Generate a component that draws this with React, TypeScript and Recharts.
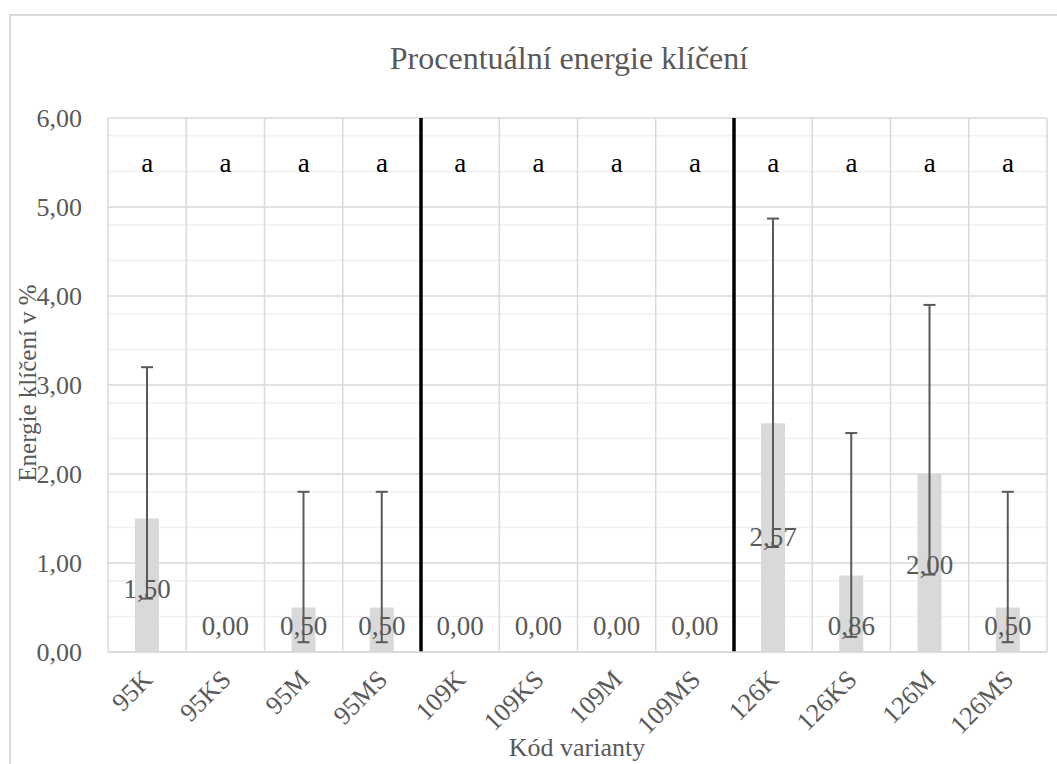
import { ComposedChart, Bar, Line, XAxis, YAxis, CartesianGrid, ErrorBar, LabelList, ReferenceLine } from "recharts";

const categories = ["95K", "95KS", "95M", "95MS", "109K", "109KS", "109M", "109MS", "126K", "126KS", "126M", "126MS"];
const values = [1.5, 0, 0.5, 0.5, 0, 0, 0, 0, 2.57, 0.86, 2.0, 0.5];
const errLow = [0.6, null, 0.11, 0.11, null, null, null, null, 1.18, 0.17, 0.87, 0.11];
const errHigh = [3.2, null, 1.8, 1.8, null, null, null, null, 4.87, 2.46, 3.9, 1.8];
const letters = ["a", "a", "a", "a", "a", "a", "a", "a", "a", "a", "a", "a"];
const letterLevel = 5.49;
const yTicks = [0, 1, 2, 3, 4, 5, 6];
const minorTicks = [0.2, 0.4, 0.6, 0.8, 1.2, 1.4, 1.6, 1.8, 2.2, 2.4, 2.6, 2.8, 3.2, 3.4, 3.6, 3.8, 4.2, 4.4, 4.6, 4.8, 5.2, 5.4, 5.6, 5.8];
const groupEnds = ["95MS", "109MS"];

const FONT = '"Liberation Serif", "Times New Roman", serif';
const TEXT = "#595959";
const Y_MAX = 6;

// value labels sit just above the lower error-bar cap (Excel-style manual placement)
const data = categories.map((c, i) => ({
  name: c,
  value: values[i],
  err: errLow[i] == null ? null : [values[i] - (errLow[i] as number), (errHigh[i] as number) - values[i]],
  labelY: Math.max((errLow[i] ?? 0) + 0.11, 0.29),
  letterY: letterLevel,
  letter: letters[i],
}));

const fmt = (v: number) => v.toFixed(2).replace(".", ",");

const ValueLabel = (props: any) => {
  const { x, y, value } = props;
  return (
    <text x={x} y={y} textAnchor="middle" dominantBaseline="central" fontSize={27} fill={TEXT} fontFamily={FONT}>
      {fmt(value)}
    </text>
  );
};

const LetterLabel = (props: any) => {
  const { x, y, value } = props;
  return (
    <text x={x} y={y} textAnchor="middle" dominantBaseline="central" fontSize={27} fill="#000" fontFamily={FONT}>
      {value}
    </text>
  );
};

const CatTick = (props: any) => {
  const { x, y, payload } = props;
  const tx = x + 7;
  const ty = y + 21;
  return (
    <text x={tx} y={ty} textAnchor="end" fontSize={26} fill={TEXT} fontFamily={FONT} transform={`rotate(-45, ${tx}, ${ty})`}>
      {payload.value}
    </text>
  );
};

const App = () => {
  return (
    <div style={{ position: "fixed", left: 0, top: 0, width: 1057, height: 764, overflow: "hidden", background: "#fff" }}>
      <div style={{ position: "absolute", left: 9, top: 14, width: 1060, height: 760, border: "2px solid #d9d9d9", fontFamily: FONT }}>
        <div style={{ position: "absolute", left: 558, top: 24, transform: "translateX(-50%)", fontSize: 32, lineHeight: "36px", color: TEXT, whiteSpace: "nowrap" }}>
          Procentuální energie klíčení
        </div>
        <div style={{ position: "absolute", left: 566, top: 717, transform: "translateX(-50%)", fontSize: 26, lineHeight: "30px", color: TEXT, whiteSpace: "nowrap" }}>
          Kód varianty
        </div>
        <div style={{ position: "absolute", left: 17, top: 367, transform: "translate(-50%, -50%) rotate(-90deg)", fontSize: 25, lineHeight: "28px", color: TEXT, whiteSpace: "nowrap", zIndex: 2 }}>
          Energie klíčení v %
        </div>
        <ComposedChart width={1060} height={760} data={data} margin={{ top: 102, right: 24, bottom: 44, left: 17 }}>
          <CartesianGrid horizontalValues={minorTicks} vertical={false} stroke="#f0f0f0" strokeWidth={1.5} />
          <CartesianGrid
            stroke="#d9d9d9"
            strokeWidth={1.5}
            verticalCoordinatesGenerator={({ offset }: any) =>
              Array.from({ length: categories.length + 1 }, (_, i) => offset.left + (i * offset.width) / categories.length)
            }
          />
          <XAxis dataKey="name" height={80} interval={0} tick={<CatTick />} tickLine={false} axisLine={{ stroke: "#d9d9d9", strokeWidth: 1.5 }} />
          <YAxis
            width={80}
            domain={[0, Y_MAX]}
            ticks={yTicks}
            tickFormatter={fmt}
            axisLine={false}
            tickLine={false}
            tick={{ fontSize: 26, fill: TEXT, fontFamily: FONT }}
            tickMargin={20}
          />
          <Bar dataKey="value" fill="#d9d9d9" barSize={24} isAnimationActive={false}>
            <ErrorBar dataKey="err" width={6} strokeWidth={2} stroke="#595959" direction="y" />
          </Bar>
          <Line dataKey="labelY" stroke="none" dot={false} activeDot={false} isAnimationActive={false}>
            <LabelList dataKey="value" content={<ValueLabel />} />
          </Line>
          <Line dataKey="letterY" stroke="none" dot={false} activeDot={false} isAnimationActive={false}>
            <LabelList dataKey="letter" content={<LetterLabel />} />
          </Line>
          {groupEnds.map((g) => (
            <ReferenceLine key={g} x={g} position="end" stroke="#000" strokeWidth={3.5} />
          ))}
        </ComposedChart>
      </div>
    </div>
  );
};

export default App;
